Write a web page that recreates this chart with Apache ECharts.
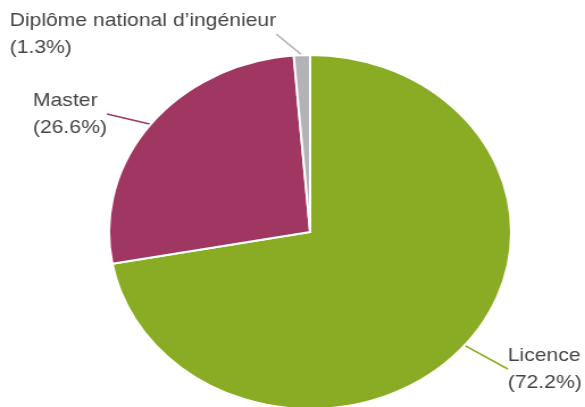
<!DOCTYPE html>
<html><head><meta charset="utf-8">
<script src="https://cdn.jsdelivr.net/npm/echarts@6/dist/echarts.min.js"></script>
<style>html,body{margin:0;padding:0;background:#fff;overflow:hidden}#c{width:515px;height:407px;transform:scaleX(1.136);transform-origin:0 0}</style>
</head><body><div id="c"></div>
<script>
const categories = ["Licence", "Master", "Diplôme national d\u2019ingénieur"];
const values = [72.2, 26.6, 1.3];
const colors = ["#8aac25", "#a03762", "#b3b3b5"];
const labelPos = [[447, 369], [29, 114], [8.5, 34]];

const chart = echarts.init(document.getElementById('c'), null, {renderer: 'canvas'});
chart.setOption({
  animation: false,
  series: [{
    type: 'pie',
    center: [273, 232],
    radius: 177,
    startAngle: 90,
    clockwise: true,
    data: categories.map((n, i) => ({name: n, value: values[i], itemStyle: {color: colors[i]}, labelLine: {lineStyle: {color: colors[i]}}})),
    itemStyle: {borderColor: '#fff', borderWidth: 2},
    label: {
      show: true,
      position: 'outside',
      formatter: p => p.name + '\n(' + p.value.toFixed(1) + '%)',
      color: '#444',
      fontFamily: 'Liberation Sans, Arial, sans-serif',
      fontSize: 18.6,
      lineHeight: 27,
      align: 'left'
    },
    labelLine: {show: true, length: 20, length2: 0, lineStyle: {width: 1.6}},
    labelLayout: p => ({x: labelPos[p.dataIndex][0], y: labelPos[p.dataIndex][1], align: 'left', verticalAlign: 'middle'})
  }]
});
</script></body></html>
